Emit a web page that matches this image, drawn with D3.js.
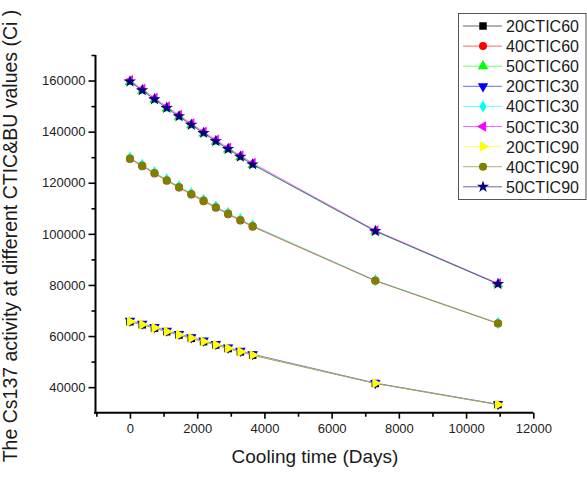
<!DOCTYPE html>
<html>
<head>
<meta charset="utf-8">
<script src="https://cdn.jsdelivr.net/npm/d3@7"></script>
<style>
  html, body { margin: 0; padding: 0; background: #fff; }
  svg { display: block; font-family: "Liberation Sans", Arial, sans-serif; }
</style>
</head>
<body>
<svg id="chart" width="587" height="487"></svg>
<script>
// ---- data ----
const days = [0, 365, 730, 1095, 1460, 1825, 2190, 2555, 2920, 3285, 3650, 7300, 10950];

const s20CTIC60 = [65600, 64400, 63100, 61700, 60400, 59100, 57800, 56500, 55100, 53800, 52500, 41450, 33150];
const s40CTIC60 = [129300, 126500, 123600, 120800, 118100, 115400, 112800, 110200, 107700, 105200, 102800, 81600, 64900];
const s50CTIC60 = [159400, 156000, 152500, 149100, 145800, 142500, 139300, 136100, 133000, 130000, 127000, 100950, 80300];
const s20CTIC30 = [66000, 64800, 63500, 62100, 60800, 59500, 58200, 56900, 55500, 54200, 52900, 41600, 33300];
const s40CTIC30 = [129800, 127000, 124100, 121300, 118600, 115900, 113300, 110700, 108200, 105700, 103300, 81850, 65100];
const s50CTIC30 = [160100, 156700, 153200, 149800, 146500, 143200, 140000, 136800, 133700, 130700, 127700, 101350, 80600];
const s20CTIC90 = [65700, 64500, 63200, 61800, 60500, 59200, 57900, 56600, 55200, 53900, 52600, 41500, 33200];
const s40CTIC90 = [129500, 126700, 123800, 121000, 118300, 115600, 113000, 110400, 107900, 105400, 103000, 81700, 65000];
const s50CTIC90 = [159600, 156200, 152700, 149300, 146000, 142700, 139500, 136300, 133200, 130200, 127200, 101100, 80400];

const seriesNames = ["20CTIC60", "40CTIC60", "50CTIC60", "20CTIC30", "40CTIC30", "50CTIC30", "20CTIC90", "40CTIC90", "50CTIC90"];
const seriesValues = [s20CTIC60, s40CTIC60, s50CTIC60, s20CTIC30, s40CTIC30, s50CTIC30, s20CTIC90, s40CTIC90, s50CTIC90];

const xTickValues = [0, 2000, 4000, 6000, 8000, 10000, 12000];
const yTickValues = [40000, 60000, 80000, 100000, 120000, 140000, 160000];

const xTitle = "Cooling time (Days)";
const yTitle = "The Cs137 activity at different CTIC&BU values (Ci )";

// ---- styles ----
const colors = ["#000000", "#ff0000", "#00ff00", "#0000ff", "#00ffff", "#ff00ff", "#ffff00", "#808000", "#000080"];
const shapes = [
  {t: d3.symbolSquare, s: 56, r: 0},
  {t: d3.symbolCircle, s: 50, r: 0},
  {t: d3.symbolTriangle, s: 48, r: 0},
  {t: d3.symbolTriangle, s: 48, r: 180},
  {t: d3.symbolDiamond, s: 44, r: 0},
  {t: d3.symbolTriangle, s: 48, r: -90},
  {t: d3.symbolTriangle, s: 48, r: 90},
  {t: d3.symbolCircle, s: 52, r: 0},
  {t: d3.symbolStar, s: 46, r: 0}
];

const svg = d3.select("#chart");
const font = '"Liberation Sans", Arial, sans-serif';

const x = d3.scaleLinear().domain([-1070, 12000]).range([94, 533.3]);
const y = d3.scaleLinear().domain([30000, 170000]).range([412.7, 55]);

// ---- axes ----
const xMinor = d3.range(-1000, 12001, 1000).filter(v => v % 2000 !== 0);
const yMinor = d3.range(50000, 170001, 20000);

const gx = svg.append("g").attr("transform", `translate(0,${y.range()[0]})`);
gx.append("line").attr("x1", x.range()[0]).attr("x2", x.range()[1])
  .attr("stroke", "#000").attr("stroke-width", 2);
gx.call(g => {
  const ax = d3.axisBottom(x).tickValues(xTickValues).tickSize(6).tickPadding(5).tickFormat(d3.format("d"));
  const sub = g.append("g").call(ax);
  sub.select(".domain").remove();
  sub.selectAll(".tick line").attr("stroke-width", 1.6);
  sub.selectAll(".tick text").attr("font-size", 13).attr("font-family", font).attr("fill", "#222");
  const sub2 = g.append("g").call(d3.axisBottom(x).tickValues(xMinor).tickSize(4).tickFormat(""));
  sub2.select(".domain").remove();
  sub2.selectAll(".tick line").attr("stroke-width", 1.6);
});

const gy = svg.append("g").attr("transform", `translate(${x.range()[0] + 1.5},0)`);
gy.append("line").attr("y1", y.range()[0] + 1).attr("y2", y.range()[1])
  .attr("stroke", "#000").attr("stroke-width", 2);
gy.call(g => {
  const ay = d3.axisLeft(y).tickValues(yTickValues).tickSize(7).tickPadding(3).tickFormat(d3.format("d"));
  const sub = g.append("g").call(ay);
  sub.select(".domain").remove();
  sub.selectAll(".tick line").attr("stroke-width", 1.6);
  sub.selectAll(".tick text").attr("font-size", 13).attr("font-family", font).attr("fill", "#222");
  const sub2 = g.append("g").call(d3.axisLeft(y).tickValues(yMinor).tickSize(4).tickFormat(""));
  sub2.select(".domain").remove();
  sub2.selectAll(".tick line").attr("stroke-width", 1.6);
});

// ---- titles ----
svg.append("text").attr("x", 315).attr("y", 463).attr("text-anchor", "middle")
  .attr("font-size", 19).attr("fill", "#1a1a1a").attr("font-family", font).text(xTitle);
svg.append("text").attr("transform", "translate(16.5,236) rotate(-90)").attr("text-anchor", "middle")
  .attr("font-size", 19.5).attr("fill", "#1a1a1a").attr("font-family", font).text(yTitle);

// ---- series ----
const line = d3.line().x((d, i) => x(days[i])).y(d => y(d));
seriesValues.forEach((vals, k) => {
  const g = svg.append("g");
  g.append("path").attr("d", line(vals)).attr("fill", "none")
    .attr("stroke", colors[k]).attr("stroke-width", 1).attr("stroke-opacity", 0.55);
  const sym = d3.symbol().type(shapes[k].t).size(shapes[k].s);
  g.selectAll("path.pt").data(vals).join("path").attr("class", "pt")
    .attr("d", sym)
    .attr("transform", (d, i) => `translate(${x(days[i])},${y(d)}) rotate(${shapes[k].r})`)
    .attr("fill", colors[k]);
});

// ---- legend ----
const lg = svg.append("g");
lg.append("rect").attr("x", 458.5).attr("y", 13.5).attr("width", 127.5).attr("height", 186)
  .attr("fill", "#fff").attr("stroke", "#555").attr("stroke-width", 1);
seriesNames.forEach((name, k) => {
  const cy = 26 + k * 20.1;
  lg.append("line").attr("x1", 463).attr("x2", 502).attr("y1", cy).attr("y2", cy)
    .attr("stroke", colors[k]).attr("stroke-width", 1).attr("stroke-opacity", 0.6);
  lg.append("path").attr("d", d3.symbol().type(shapes[k].t).size(shapes[k].s)())
    .attr("transform", `translate(483,${cy}) rotate(${shapes[k].r})`).attr("fill", colors[k]);
  lg.append("text").attr("x", 506).attr("y", cy + 6).attr("font-size", 16)
    .attr("fill", "#1a1a1a").attr("font-family", font).text(name);
});
</script>
</body>
</html>
